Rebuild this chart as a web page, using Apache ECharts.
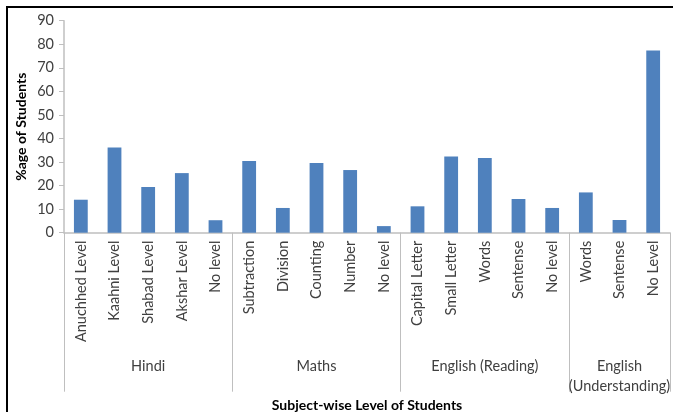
<!DOCTYPE html>
<html>
<head>
<meta charset="utf-8">
<script src="https://cdn.jsdelivr.net/npm/echarts@6/dist/echarts.min.js"></script>
<style>
  html, body { margin: 0; padding: 0; background: #fff; }
  #chart { width: 673px; height: 412px; }
</style>
</head>
<body>
<div id="chart"></div>
<script>
// level labels (inner axis) and values
const levels = [
  'Anuchhed Level', 'Kaahni Level', 'Shabad Level', 'Akshar Level', 'No level',
  'Subtraction', 'Division', 'Counting', 'Number', 'No level',
  'Capital Letter', 'Small Letter', 'Words', 'Sentense', 'No level',
  'Words', 'Sentense', 'No Level'
]
const percents = [
  14.0, 36.2, 19.4, 25.3, 5.3,
  30.4, 10.5, 29.6, 26.6, 2.8,
  11.2, 32.4, 31.7, 14.3, 10.5,
  17.1, 5.4, 77.3
]
// subject groups (outer axis)
const groups = ['Hindi', 'Maths', 'English (Reading)', 'English\n(Understanding)']
const groupSizes = [5, 5, 5, 3]
const yTicks = [0, 90, 10]   // min, max, step

// boundaries and centres of each group on a 0..n scale
let groupEdges = [0]
let groupMids = []
groupSizes.forEach((n, i) => {
  let start = groupEdges[i]
  groupEdges.push(start + n)
  groupMids.push(start + n / 2)
})

const font = 'Lato'
const grey = '#BFBFBF'
const textCol = '#404040'

let chart = echarts.init(document.getElementById('chart'))
let option = {
  animation: false,
  backgroundColor: '#fff',
  textStyle: {fontFamily: font},
  grid: {left: 64, right: 3, top: 20.7, bottom: 179.3, outerBoundsMode: 'none', containLabel: false},
  graphic: [
    {
      type: 'rect',
      shape: {x: 7, y: 7, width: 720, height: 480},
      style: {fill: 'none', stroke: '#000', lineWidth: 2},
      silent: true
    }
  ],
  xAxis: [
    {
      type: 'category',
      data: levels,
      position: 'bottom',
      axisLine: {lineStyle: {color: grey, width: 1.5}},
      axisTick: {length: 110, lineStyle: {color: grey}},
      axisLabel: {
        interval: 0,
        rotate: 90,
        margin: 8,
        fontSize: 14.5,
        color: textCol,
        fontFamily: font
      }
    },
    {
      type: 'value',
      min: 0,
      max: levels.length,
      position: 'bottom',
      offset: 0,
      splitLine: {show: false},
      axisLine: {show: false},
      axisTick: {
        show: true,
        length: 159,
        customValues: groupEdges,
        lineStyle: {color: grey}
      },
      axisLabel: {
        customValues: groupMids,
        margin: 124,
        fontSize: 14.5,
        lineHeight: 20,
        color: textCol,
        fontFamily: font,
        formatter: v => groups[groupMids.indexOf(v)]
      },
      name: 'Subject-wise Level of Students',
      nameLocation: 'middle',
      nameGap: 166,
      nameMoveOverlap: false,
      nameTextStyle: {fontSize: 14, fontWeight: 'bold', color: '#000', fontFamily: font}
    }
  ],
  yAxis: {
    type: 'value',
    min: yTicks[0],
    max: yTicks[1],
    interval: yTicks[2],
    splitLine: {show: false},
    axisLine: {show: true, lineStyle: {color: grey, width: 1.5}},
    axisTick: {show: true, length: 5, lineStyle: {color: grey}},
    axisLabel: {fontSize: 14.5, color: textCol, margin: 10, fontFamily: font},
    name: '%age of Students',
    nameLocation: 'middle',
    nameGap: 36,
    nameMoveOverlap: false,
    nameTextStyle: {fontSize: 14, fontWeight: 'bold', color: '#000', fontFamily: font}
  },
  series: [
    {
      type: 'bar',
      data: percents,
      barWidth: '41%',
      itemStyle: {color: '#4F81BD'}
    }
  ]
}
chart.setOption(option)
</script>
</body>
</html>
